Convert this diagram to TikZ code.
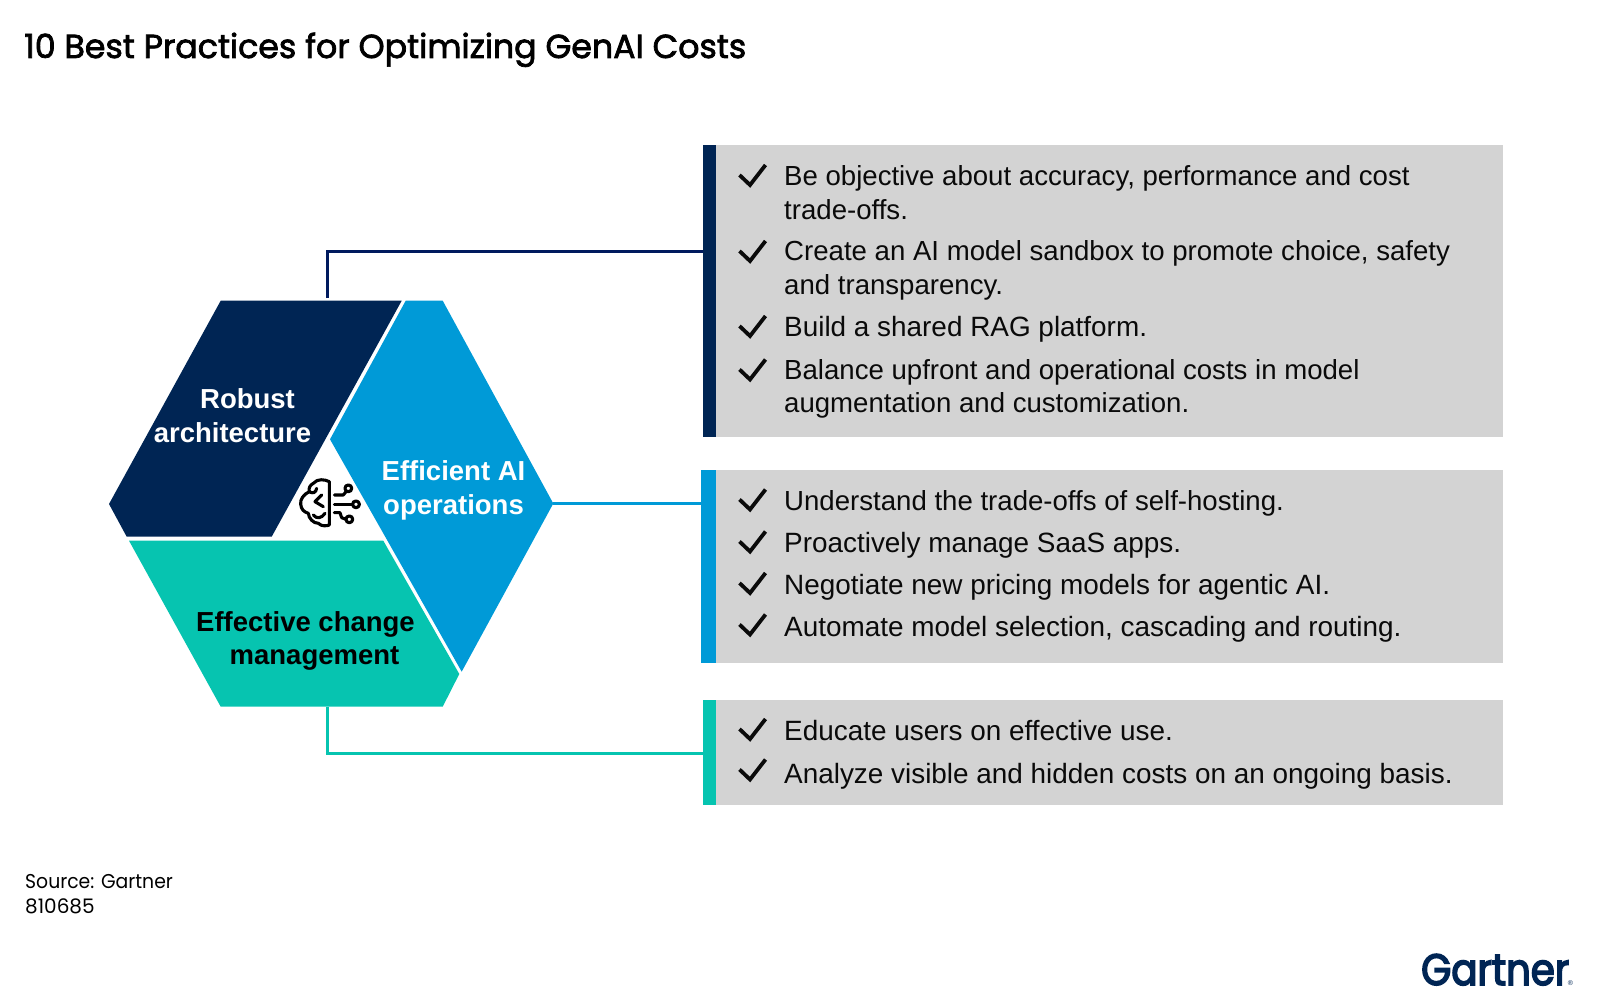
\documentclass[tikz,border=0pt]{standalone}
\usepackage{fontspec}
\setmainfont{Liberation Sans}
\newfontfamily\titlefont{Poppins}[FakeBold=2.2]
\newfontfamily\notefont{Poppins}[FakeStretch=0.94]
\newfontfamily\numfont{Poppins}
\newfontfamily\logofont{Poppins}[FakeBold=3.5,FakeStretch=0.88]
\definecolor{navy}{HTML}{002554}
\definecolor{navyline}{HTML}{001A5E}
\definecolor{skyb}{HTML}{009AD7}
\definecolor{teal2}{HTML}{06C4B0}
\definecolor{panelgray}{HTML}{D3D3D3}
\definecolor{inkblack}{HTML}{0A0A0A}
\tikzset{
  x=1pt,y=-1pt,
  itemtext/.style={anchor=base west,inner sep=0pt,align=left,text=inkblack,font=\fontsize{27.6}{33.5}\selectfont},
  itemwide/.style={itemtext,font=\fontsize{27.9}{33.5}\selectfont},
  hexlabel/.style={inner sep=0pt,align=center,font=\fontsize{27.5}{33.8}\selectfont\bfseries},
  panel/.style={fill=panelgray,draw=none,inner sep=0pt,anchor=north west},
  barbox/.style={draw=none,inner sep=0pt,anchor=north west},
  conn/.style={line width=3pt,line join=miter},
  chk/.pic={\draw[line width=3.8pt,line cap=butt,line join=miter,inkblack] (-12.5,-0.5) -- (-2,9.5) -- (13.5,-10.5);},
  iconline/.style={line width=3.1pt,black,line cap=round,line join=round}
}
\begin{document}
\begin{tikzpicture}
\useasboundingbox (0,0) rectangle (1600,1003);
% title
\node[anchor=base west,inner sep=0pt] (title) at (24,58) {\titlefont\fontsize{33.2}{36}\selectfont 10 Best Practices for Optimizing GenAI Costs};
% hexagon
\fill[navy] (220.7,300.7) -- (401.7,300.7) -- (271.7,536.7) -- (126.7,536.7) -- (109,504) -- cycle;
\fill[skyb] (405.7,300.7) -- (442.7,300.7) -- (553.3,503.5) -- (461.7,671.7) -- (330,439.3) -- cycle;
\fill[teal2] (129,540.7) -- (383.3,540.7) -- (459.3,674) -- (442.7,706.7) -- (220.7,706.7) -- cycle;
\node[hexlabel,text=white] (robust) at (232.5,415.5) {\hspace*{30pt}Robust\\architecture};
\node[hexlabel,text=white] (efficient) at (453.5,490.5) {Efficient AI\\operations};
\node[hexlabel,text=black] (change) at (305.5,641) {Effective change\\\hspace*{18pt}management};
% brain icon
\begin{scope}[shift={(290,470)},x=0.3333pt,y=-0.3333pt]
\draw[iconline] (118,35) .. controls (105,28) and (82,25) .. (70,40) .. controls (60,45) and (55,55) .. (58,65) .. controls (42,72) and (30,88) .. (32,102) .. controls (33,118) and (42,126) .. (55,130) .. controls (56,145) and (70,160) .. (85,160) .. controls (95,170) and (110,168) .. (118,165) -- cycle;
\draw[iconline] (95,75) -- (75,95) -- (100,110);
\draw[iconline] (58,65) .. controls (68,72) and (78,68) .. (80,55);
\draw[iconline] (70,135) .. controls (80,148) and (95,145) .. (105,130);
\draw[iconline] (133,75) -- (160,75) -- (168,65);
\draw[iconline] (175,55) circle [radius=3.4pt];
\draw[iconline] (133,103) -- (188,103);
\draw[iconline] (198,103) circle [radius=3.4pt];
\draw[iconline] (133,128) -- (150,128) -- (155,143) -- (168,148);
\draw[iconline] (178,148) circle [radius=3.4pt];
\end{scope}
% panels
\path (716,145) node[panel,minimum width=787pt,minimum height=292pt] (p1) {};
\path (703,145) node[barbox,fill=navy,minimum width=13pt,minimum height=292pt] (b1) {};
\path (716,470) node[panel,minimum width=787pt,minimum height=193pt] (p2) {};
\path (701,470) node[barbox,fill=skyb,minimum width=15pt,minimum height=193pt] (b2) {};
\path (716,700) node[panel,minimum width=787pt,minimum height=105pt] (p3) {};
\path (703,700) node[barbox,fill=teal2,minimum width=13pt,minimum height=105pt] (b3) {};
% connectors
\coordinate (navytop) at (327,298);
\coordinate (navyend) at (703,251.7);
\coordinate (skystart) at (553.3,503.5);
\coordinate (skyend) at (701,503.5);
\coordinate (tealtop) at (327,706.7);
\coordinate (tealend) at (703,753.3);
\draw[conn,navyline] (navytop) |- (navyend);
\draw[conn,skyb] (skystart) -- (skyend);
\draw[conn,teal2] (tealtop) |- (tealend);
% items
\node[itemtext] (i1) at (784,185.5) {Be objective about accuracy, performance and cost};
\node[itemtext] (i1b) at (784,219.5) {trade-offs.};
\node[itemtext] (i2) at (784,260.5) {Create an AI model sandbox to promote choice, safety};
\node[itemtext] (i2b) at (784,294) {and transparency.};
\node[itemwide] (i3) at (784,336.5) {Build a shared RAG platform.};
\node[itemtext] (i4) at (784,379.5) {Balance upfront and operational costs in model};
\node[itemtext] (i4b) at (784,412) {augmentation and customization.};
\node[itemtext] (i5) at (784,510) {Understand the trade-offs of self-hosting.};
\node[itemwide] (i6) at (784,552.5) {Proactively manage SaaS apps.};
\node[itemwide] (i7) at (784,594.5) {Negotiate new pricing models for agentic AI.};
\node[itemwide] (i8) at (784,636.5) {Automate model selection, cascading and routing.};
\node[itemwide] (i9) at (784,740.5) {Educate users on effective use.};
\node[itemwide] (i10) at (784,783.5) {Analyze visible and hidden costs on an ongoing basis.};
\foreach \yy in {175.5,251.5,326.5,370,500,542,583.5,625,729.5,770}{\pic at (752,\yy) {chk};}
% notes
\node[anchor=base west,inner sep=0pt] (src) at (25,888) {\notefont\fontsize{20}{24}\selectfont Source: Gartner};
\node[anchor=base west,inner sep=0pt] (num) at (25,913) {\numfont\fontsize{20}{24}\selectfont 810685};
% logo
\node[anchor=base west,inner sep=0pt,text=navy] (logo) at (1421,985) {\logofont\fontsize{44}{48}\selectfont Gartner\hspace{-1.5pt}{\rmfamily\fontsize{7}{8}\selectfont ®}};
\end{tikzpicture}
\end{document}
